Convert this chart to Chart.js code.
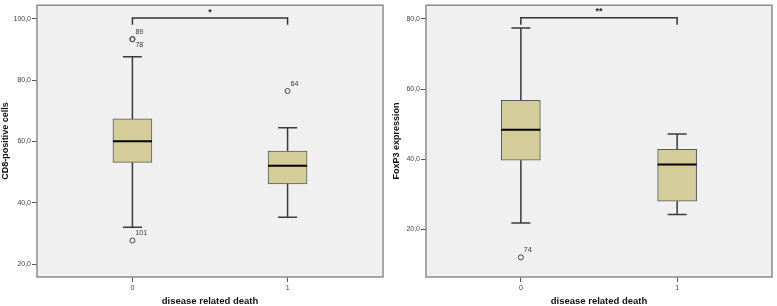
<!DOCTYPE html>
<html>
<head>
<meta charset="utf-8">
<script src="https://cdn.jsdelivr.net/npm/chart.js@4/dist/chart.umd.min.js"></script>
<style>
  body { margin: 0; background: #fff; }
  canvas { position: absolute; top: 0; }
  #left { left: 0; }
  #right { left: 388px; }
</style>
</head>
<body>
<canvas id="left" width="388" height="306"></canvas>
<canvas id="right" width="389" height="306"></canvas>
<script>
// groups on the x axis (disease related death)
const groups = [0, 1];
const groupLabels = ['0', '1'];

// CD8-positive cells
const cd8Low = [32.0, 35.3];
const cd8Q1 = [53.2, 46.2];
const cd8Median = [60.1, 52.1];
const cd8Q3 = [67.4, 56.9];
const cd8High = [87.7, 64.5];
const cd8OutGroup = [0, 0, 0, 1];
const cd8OutValue = [93.4, 93.4, 27.7, 76.5];
const cd8OutId = ['89', '78', '101', '64'];
const cd8Ticks = [20, 40, 60, 80, 100];

// FoxP3 expression
const foxLow = [21.8, 24.2];
const foxQ1 = [39.7, 28.0];
const foxMedian = [48.4, 38.5];
const foxQ3 = [56.8, 42.8];
const foxHigh = [77.4, 47.2];
const foxOutGroup = [0];
const foxOutValue = [12.0];
const foxOutId = ['74'];
const foxTicks = [20, 40, 60, 80];

const FONT = "'Liberation Sans', Arial, sans-serif";

const boxParts = {
  id: 'boxParts',
  beforeDraw(chart) {
    const { ctx, chartArea: a } = chart;
    ctx.save();
    ctx.fillStyle = '#f0f0f0';
    ctx.fillRect(a.left, a.top, a.width, a.height);
    ctx.restore();
  },
  afterDatasetsDraw(chart) {
    const s = chart.options.plugins.boxParts;
    const x = chart.scales.x, y = chart.scales.y, ctx = chart.ctx;
    ctx.save();
    s.groups.forEach((g, i) => {
      const px = x.getPixelForValue(g);
      ctx.strokeStyle = '#3a3a3a';
      ctx.lineWidth = 1.5;
      ctx.beginPath();
      ctx.moveTo(px, y.getPixelForValue(s.q3[i]));
      ctx.lineTo(px, y.getPixelForValue(s.high[i]));
      ctx.moveTo(px, y.getPixelForValue(s.q1[i]));
      ctx.lineTo(px, y.getPixelForValue(s.low[i]));
      [s.high[i], s.low[i]].forEach(v => {
        const py = y.getPixelForValue(v);
        ctx.moveTo(px - 9.5, py);
        ctx.lineTo(px + 9.5, py);
      });
      ctx.stroke();
      // median
      const pm = y.getPixelForValue(s.median[i]);
      ctx.strokeStyle = '#000';
      ctx.lineWidth = 2;
      ctx.beginPath();
      ctx.moveTo(px - 19.5, pm);
      ctx.lineTo(px + 19.5, pm);
      ctx.stroke();
    });

    // case numbers next to outliers
    ctx.fillStyle = '#333';
    ctx.font = '7px ' + FONT;
    ctx.textAlign = 'left';
    ctx.textBaseline = 'middle';
    const pts = chart.getDatasetMeta(2).data;
    let prev = null;
    pts.forEach((p, j) => {
      const stacked = prev && Math.abs(prev.x - p.x) < 1 && Math.abs(prev.y - p.y) < 1;
      ctx.fillText(s.ids[j], p.x + 3, stacked ? p.y + 6 : p.y - 7);
      prev = p;
    });

    // significance star
    ctx.font = 'bold 9px ' + FONT;
    ctx.textAlign = 'center';
    ctx.fillStyle = '#222';
    const mx = (x.getPixelForValue(s.groups[0]) + x.getPixelForValue(s.groups[1])) / 2;
    ctx.fillText(s.star, mx, y.getPixelForValue(s.bracket) - 6);

    // frame
    const a = chart.chartArea;
    ctx.strokeStyle = '#8c8c8c';
    ctx.lineWidth = 1.5;
    ctx.strokeRect(a.left, a.top, a.width, a.height);
    ctx.restore();
  }
};

const fmt = v => v.toFixed(1).replace('.', ',');

function buildChart(id, c) {
  const bracketData = [
    { x: groups[0], y: c.bracketFoot }, { x: groups[0], y: c.bracket },
    { x: groups[1], y: c.bracket }, { x: groups[1], y: c.bracketFoot }
  ];
  return new Chart(document.getElementById(id), {
    type: 'bar',
    data: {
      datasets: [
        {
          type: 'line', data: bracketData, borderColor: '#333', borderWidth: 1.5,
          pointRadius: 0, fill: false, tension: 0
        },
        {
          type: 'bar',
          data: groups.map((g, i) => ({ x: g, y: [c.q1[i], c.q3[i]] })),
          backgroundColor: '#d4cd99', borderColor: '#5a5a5a', borderWidth: 1,
          borderSkipped: false, barThickness: 39
        },
        {
          type: 'scatter',
          data: c.outGroup.map((g, i) => ({ x: g, y: c.outValue[i] })),
          pointStyle: 'circle', pointRadius: 2.5, borderColor: '#444',
          backgroundColor: 'rgba(0,0,0,0)', borderWidth: 1, showLine: false
        }
      ]
    },
    options: {
      responsive: false,
      animation: false,
      layout: { padding: c.padding },
      plugins: {
        legend: { display: false },
        tooltip: { enabled: false },
        boxParts: {
          groups: groups, q1: c.q1, q3: c.q3, median: c.median, low: c.low, high: c.high,
          ids: c.outId, star: c.star, bracket: c.bracket
        }
      },
      scales: {
        x: {
          type: 'linear', min: c.xMin, max: c.xMax, offset: false,
          afterBuildTicks: sc => { sc.ticks = groups.map(v => ({ value: v })); },
          afterFit: sc => { sc.height = 29; },
          ticks: {
            callback: v => groupLabels[groups.indexOf(v)],
            font: { size: 7, family: FONT }, color: '#444', padding: 2,
            autoSkip: false, maxRotation: 0
          },
          grid: { offset: false, drawOnChartArea: false, drawTicks: true, tickLength: 5, color: '#555' },
          border: { display: false },
          title: {
            display: true, text: 'disease related death', color: '#111',
            font: { size: 9.5, weight: 'bold', family: FONT, lineHeight: 1 }, padding: 0
          }
        },
        y: {
          type: 'linear', min: c.yMin, max: c.yMax,
          afterBuildTicks: sc => { sc.ticks = c.ticks.map(v => ({ value: v })); },
          afterFit: sc => { sc.width = c.yWidth; },
          ticks: {
            callback: v => fmt(v),
            font: { size: 7, family: FONT }, color: '#444', padding: 1
          },
          grid: { drawOnChartArea: false, drawTicks: true, tickLength: 5, color: '#555' },
          border: { display: false },
          title: {
            display: true, text: c.yTitle, color: '#111',
            font: { size: 9, weight: 'bold', family: FONT }, padding: 0
          }
        }
      }
    },
    plugins: [boxParts]
  });
}

buildChart('left', {
  low: cd8Low, q1: cd8Q1, median: cd8Median, q3: cd8Q3, high: cd8High,
  outGroup: cd8OutGroup, outValue: cd8OutValue, outId: cd8OutId, ticks: cd8Ticks,
  yTitle: 'CD8-positive cells', star: '*', bracket: 100.3, bracketFoot: 98.1,
  yMin: 15.8, yMax: 104.5, xMin: -0.615, xMax: 1.615,
  yWidth: 37, padding: { left: 0, top: 1, right: 5, bottom: 0 }
});

buildChart('right', {
  low: foxLow, q1: foxQ1, median: foxMedian, q3: foxQ3, high: foxHigh,
  outGroup: foxOutGroup, outValue: foxOutValue, outId: foxOutId, ticks: foxTicks,
  yTitle: 'FoxP3 expression', star: '**', bracket: 80.3, bracketFoot: 78.3,
  yMin: 6.4, yMax: 83.9, xMin: -0.607, xMax: 1.607,
  yWidth: 35, padding: { left: 3, top: 1, right: 2, bottom: 0 }
});
</script>
</body>
</html>
